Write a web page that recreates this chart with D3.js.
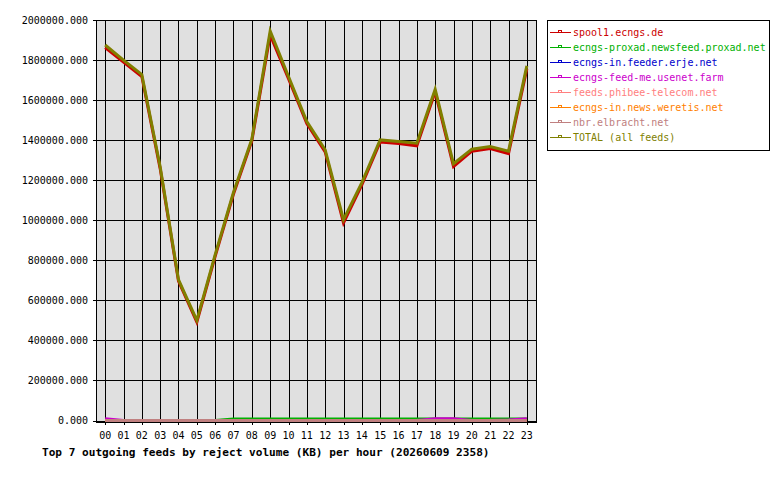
<!DOCTYPE html>
<html>
<head>
<meta charset="utf-8">
<script src="https://cdn.jsdelivr.net/npm/d3@7"></script>
<style>
  body { margin: 0; background: #ffffff; }
  text { font-family: 'DejaVu Sans Mono', monospace; }
</style>
</head>
<body>
<div id="chart"></div>
<script>
// Hours on the x-axis.
var hours = ['00','01','02','03','04','05','06','07','08','09','10','11',
             '12','13','14','15','16','17','18','19','20','21','22','23'];

// Values per feed (KB rejected per hour).
var spool1 = [1862000, 1790000, 1718000, 1258000, 696000, 491000, 820000, 1131000,
              1396000, 1926000, 1707000, 1483000, 1341000, 987000, 1177000, 1391000,
              1383000, 1372000, 1641000, 1268000, 1345000, 1358000, 1333000, 1756000];
var proxad = [0, 0, 0, 0, 0, 0, 0, 7000, 7000, 7000, 7000, 7000,
              7000, 7000, 7000, 7000, 7000, 7000, 7000, 7000, 7000, 7000, 7000, 7000];
var erje = [0, 0, 0, 0, 0, 0, 0, 0, 0, 0, 0, 0,
            0, 0, 0, 0, 0, 0, 0, 0, 0, 0, 0, 0];
var usenetFarm = [9000, 0, 0, 0, 0, 0, 0, 0, 0, 0, 0, 0,
                  0, 0, 0, 0, 0, 0, 9000, 9000, 0, 0, 3000, 9000];
var phibee = [0, 0, 0, 0, 0, 0, 0, 0, 0, 0, 0, 0,
              0, 0, 0, 0, 0, 0, 0, 0, 0, 0, 0, 0];
var weretis = [0, 0, 0, 0, 0, 0, 0, 0, 0, 0, 0, 0,
               0, 0, 0, 0, 0, 0, 0, 0, 0, 0, 0, 0];
var elbracht = [0, 0, 0, 0, 0, 0, 0, 0, 0, 0, 0, 0,
                0, 0, 0, 0, 0, 0, 0, 0, 0, 0, 0, 0];
var total = [1875000, 1800000, 1727000, 1267000, 703000, 500000, 828000, 1140000,
             1405000, 1945000, 1718000, 1493000, 1352000, 1003000, 1188000, 1401000,
             1393000, 1385000, 1654000, 1282000, 1355000, 1368000, 1345000, 1771000];

// Feed names, in legend order, and their colours.
var feedNames = ['spool1.ecngs.de', 'ecngs-proxad.newsfeed.proxad.net', 'ecngs-in.feeder.erje.net',
                 'ecngs-feed-me.usenet.farm', 'feeds.phibee-telecom.net', 'ecngs-in.news.weretis.net',
                 'nbr.elbracht.net', 'TOTAL (all feeds)'];
var feedColors = ['#cc0000', '#00b000', '#0000cc', '#cc00cc', '#ff8080', '#ff8000', '#c08080', '#808000'];
var feedValues = [spool1, proxad, erje, usenetFarm, phibee, weretis, elbracht, total];

// Y-axis tick values.
var yTicks = [0, 200000, 400000, 600000, 800000, 1000000, 1200000, 1400000, 1600000, 1800000, 2000000];

var title = 'Top 7 outgoing feeds by reject volume (KB) per hour (20260609 2358)';

// Size of the picture and the plot area.
var width = 780,
    height = 480;
var plot = {left: 96, right: 536, top: 20, bottom: 422};

var svg = d3.select('#chart')
    .append('svg')
        .attr('width', width)
        .attr('height', height);

// Scales.
var x = d3.scaleBand()
    .domain(hours)
    .range([plot.left, plot.right]);

var y = d3.scaleLinear()
    .domain([0, 2000000])
    .range([420.5, 20]);

function cx(h) { return Math.round(x(h) + x.bandwidth() / 2) + 0.5; }
function cy(v) { return Math.round(y(v)) + 0.5; }

// Grey plot background.
svg.append('rect')
    .attr('x', plot.left)
    .attr('y', plot.top)
    .attr('width', plot.right - plot.left)
    .attr('height', plot.bottom - plot.top)
    .attr('fill', '#e0e0e0');

// Horizontal grid lines plus the y-axis ticks.
svg.append('g')
    .selectAll('line')
    .data(yTicks)
    .enter().append('line')
        .attr('x1', plot.left - 3)
        .attr('x2', plot.right)
        .attr('y1', function(d){ return cy(d); })
        .attr('y2', function(d){ return cy(d); })
        .attr('stroke', '#000')
        .attr('shape-rendering', 'crispEdges');

// Y-axis labels.
svg.append('g')
    .selectAll('text')
    .data(yTicks)
    .enter().append('text')
        .attr('x', 88)
        .attr('y', function(d){ return y(d) + 3.5; })
        .attr('text-anchor', 'end')
        .attr('font-size', '10px')
        .attr('fill', '#000')
        .text(function(d){ return d3.format('.3f')(d); });

// Vertical grid lines plus the x-axis ticks.
svg.append('g')
    .selectAll('line')
    .data(hours)
    .enter().append('line')
        .attr('x1', function(d){ return cx(d); })
        .attr('x2', function(d){ return cx(d); })
        .attr('y1', plot.top)
        .attr('y2', plot.bottom + 3)
        .attr('stroke', '#000')
        .attr('shape-rendering', 'crispEdges');

// X-axis labels.
svg.append('g')
    .selectAll('text')
    .data(hours)
    .enter().append('text')
        .attr('x', function(d){ return x(d) + x.bandwidth() / 2; })
        .attr('y', 439)
        .attr('text-anchor', 'middle')
        .attr('font-size', '10px')
        .attr('fill', '#000')
        .text(function(d){ return d; });

// Feed lines, TOTAL drawn last so it sits on top.
var line = d3.line()
    .x(function(d, i){ return x(hours[i]) + x.bandwidth() / 2; })
    .y(function(d){ return y(d); });

svg.append('g')
    .selectAll('path')
    .data(feedValues)
    .enter().append('path')
        .attr('d', function(d){ return line(d); })
        .attr('fill', 'none')
        .attr('stroke', function(d, i){ return feedColors[i]; })
        .attr('stroke-width', 3)
        .attr('stroke-linejoin', 'miter');

// Frame round the plot.
svg.append('rect')
    .attr('x', plot.left + 0.5)
    .attr('y', plot.top + 0.5)
    .attr('width', plot.right - plot.left)
    .attr('height', plot.bottom - plot.top)
    .attr('fill', 'none')
    .attr('stroke', '#000')
    .attr('shape-rendering', 'crispEdges');

// Title below the chart.
svg.append('text')
    .attr('x', 42)
    .attr('y', 456)
    .attr('font-size', '11.1px')
    .attr('font-weight', 'bold')
    .attr('fill', '#000')
    .text(title);

// Legend box.
var legend = svg.append('g');

legend.append('rect')
    .attr('x', 547.5)
    .attr('y', 20.5)
    .attr('width', 222)
    .attr('height', 130)
    .attr('fill', '#fff')
    .attr('stroke', '#000')
    .attr('shape-rendering', 'crispEdges');

var items = legend.selectAll('g.item')
    .data(feedNames)
    .enter().append('g')
        .attr('class', 'item')
        .attr('transform', function(d, i){ return 'translate(0, ' + (32 + i * 15) + ')'; });

items.append('line')
    .attr('x1', 550)
    .attr('x2', 571)
    .attr('y1', 0.5)
    .attr('y2', 0.5)
    .attr('stroke', function(d, i){ return feedColors[i]; })
    .attr('shape-rendering', 'crispEdges');

items.append('rect')
    .attr('x', 558)
    .attr('y', -2)
    .attr('width', 3)
    .attr('height', 2)
    .attr('fill', 'none')
    .attr('stroke', function(d, i){ return feedColors[i]; })
    .attr('stroke-width', 1)
    .attr('shape-rendering', 'crispEdges');

items.append('text')
    .attr('x', 573)
    .attr('y', 4)
    .attr('font-size', '10px')
    .attr('fill', function(d, i){ return feedColors[i]; })
    .text(function(d){ return d; });
</script>
</body>
</html>
